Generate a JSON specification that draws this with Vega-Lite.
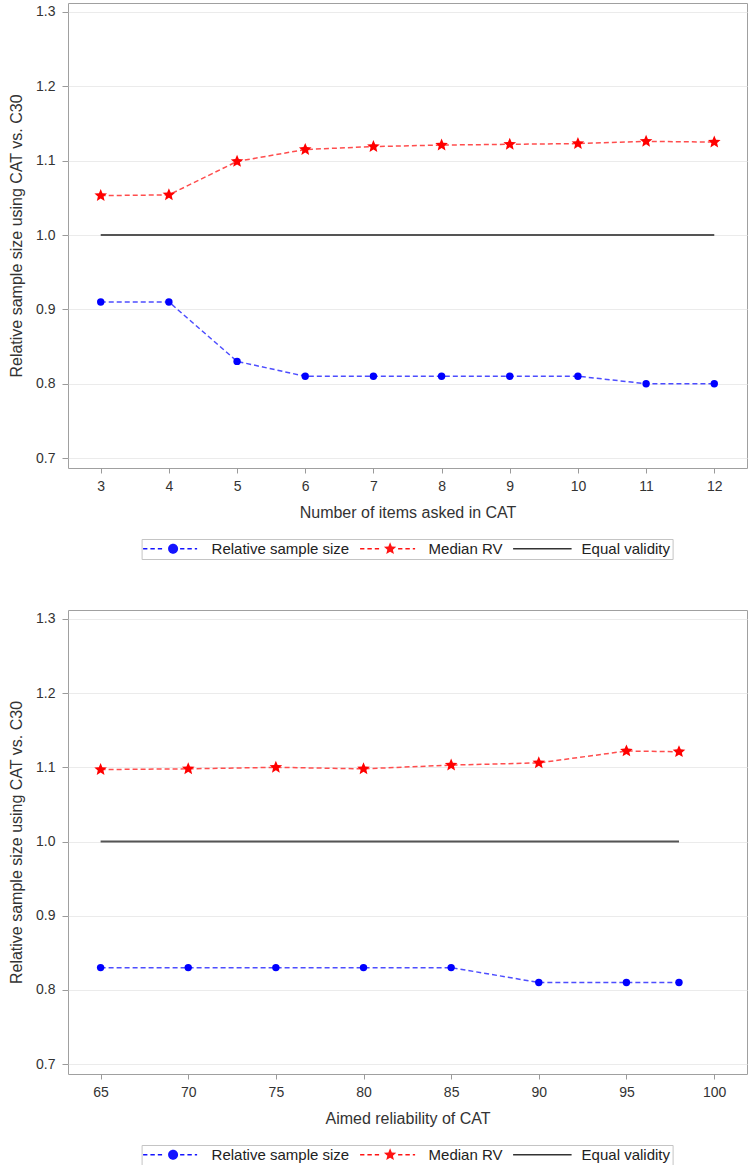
{
  "$schema": "https://vega.github.io/schema/vega-lite/v6.json",
  "background": "white",
  "padding": {"left": 8, "top": 2, "right": 2, "bottom": 0},
  "spacing": 49,
  "config": {
    "font": "Liberation Sans",
    "view": {"stroke": "#a0a0a0", "strokeWidth": 1},
    "axis": {
      "labelFont": "Liberation Sans",
      "titleFont": "Liberation Sans",
      "labelFontSize": 14,
      "titleFontSize": 16,
      "labelColor": "#333333",
      "titleColor": "#333333",
      "titleFontWeight": "normal",
      "domain": false,
      "tickColor": "#9a9a9a",
      "labelPadding": 6,
      "titlePadding": 11
    },
    "axisX": {"grid": false, "tickSize": 5},
    "axisY": {"grid": true, "gridColor": "#ebebeb", "gridWidth": 1, "tickSize": 6, "labelPadding": 7},
    "legend": {"labelFont": "Liberation Sans"}
  },
  "datasets": {
    "items": [
      {"x": 3, "y": 0.91, "series": "Relative sample size"},
      {"x": 4, "y": 0.91, "series": "Relative sample size"},
      {"x": 5, "y": 0.83, "series": "Relative sample size"},
      {"x": 6, "y": 0.81, "series": "Relative sample size"},
      {"x": 7, "y": 0.81, "series": "Relative sample size"},
      {"x": 8, "y": 0.81, "series": "Relative sample size"},
      {"x": 9, "y": 0.81, "series": "Relative sample size"},
      {"x": 10, "y": 0.81, "series": "Relative sample size"},
      {"x": 11, "y": 0.80, "series": "Relative sample size"},
      {"x": 12, "y": 0.80, "series": "Relative sample size"},
      {"x": 3, "y": 1.053, "series": "Median RV"},
      {"x": 4, "y": 1.054, "series": "Median RV"},
      {"x": 5, "y": 1.099, "series": "Median RV"},
      {"x": 6, "y": 1.115, "series": "Median RV"},
      {"x": 7, "y": 1.119, "series": "Median RV"},
      {"x": 8, "y": 1.121, "series": "Median RV"},
      {"x": 9, "y": 1.122, "series": "Median RV"},
      {"x": 10, "y": 1.123, "series": "Median RV"},
      {"x": 11, "y": 1.126, "series": "Median RV"},
      {"x": 12, "y": 1.125, "series": "Median RV"},
      {"x": 3, "y": 1.0, "series": "Equal validity"},
      {"x": 12, "y": 1.0, "series": "Equal validity"}
    ],
    "reliability": [
      {"x": 65, "y": 0.83, "series": "Relative sample size"},
      {"x": 70, "y": 0.83, "series": "Relative sample size"},
      {"x": 75, "y": 0.83, "series": "Relative sample size"},
      {"x": 80, "y": 0.83, "series": "Relative sample size"},
      {"x": 85, "y": 0.83, "series": "Relative sample size"},
      {"x": 90, "y": 0.81, "series": "Relative sample size"},
      {"x": 95, "y": 0.81, "series": "Relative sample size"},
      {"x": 98, "y": 0.81, "series": "Relative sample size"},
      {"x": 65, "y": 1.097, "series": "Median RV"},
      {"x": 70, "y": 1.098, "series": "Median RV"},
      {"x": 75, "y": 1.1, "series": "Median RV"},
      {"x": 80, "y": 1.098, "series": "Median RV"},
      {"x": 85, "y": 1.103, "series": "Median RV"},
      {"x": 90, "y": 1.106, "series": "Median RV"},
      {"x": 95, "y": 1.122, "series": "Median RV"},
      {"x": 98, "y": 1.121, "series": "Median RV"},
      {"x": 65, "y": 1.0, "series": "Equal validity"},
      {"x": 98, "y": 1.0, "series": "Equal validity"}
    ]
  },
  "vconcat": [
    {
      "width": 679,
      "height": 465,
      "data": {"name": "items"},
      "encoding": {
        "x": {"field": "x", "type": "quantitative", "title": "Number of items asked in CAT",
              "scale": {"domain": [2.52, 12.48], "nice": false, "zero": false},
              "axis": {"values": [3, 4, 5, 6, 7, 8, 9, 10, 11, 12]}},
        "y": {"field": "y", "type": "quantitative", "title": "Relative sample size using CAT vs. C30",
              "scale": {"domain": [0.6866, 1.3121], "nice": false, "zero": false},
              "axis": {"values": [0.7, 0.8, 0.9, 1.0, 1.1, 1.2, 1.3], "format": ".1f"}}
      },
      "layer": [
        {
          "transform": [{"filter": "datum.series !== 'Equal validity'"}],
          "mark": {"type": "line", "strokeDash": [5, 3], "strokeWidth": 1.5},
          "encoding": {
            "stroke": {"field": "series", "type": "nominal",
              "scale": {"domain": ["Relative sample size", "Median RV", "Equal validity"], "range": ["#4d4dff", "#ff4d4d", "#555555"]},
              "legend": {
                "orient": "none", "legendX": 73.6, "legendY": 536, "direction": "horizontal", "title": null,
                "symbolSize": 100, "labelFontSize": 15, "labelColor": "#222222", "labelOffset": 49,
                "columnPadding": 10, "padding": 2, "symbolOffset": 4, "strokeColor": "#c4c4c4",
                "encode": {"symbols": {"update": {
                  "shape": {"signal": "datum.value === 'Relative sample size' ? 'M-2.4,-0.13H-1.54V0.13H-2.4Z M-0.94,-0.13H-0.06V0.13H-0.94Z M0.54,-0.13H1.4V0.13H0.54Z M2.6,0A1,1 0 1,0 4.6,0A1,1 0 1,0 2.6,0Z M5,-0.13H5.86V0.13H5Z M6.46,-0.13H7.34V0.13H6.46Z M7.94,-0.13H8.4V0.13H7.94Z' : datum.value === 'Median RV' ? 'M-2.4,-0.13H-1.54V0.13H-2.4Z M-0.94,-0.13H-0.06V0.13H-0.94Z M0.54,-0.13H1.4V0.13H0.54Z M3.6,-1.3L3.944,-0.473L4.836,-0.402L4.156,0.181L4.364,1.052L3.6,0.585L2.836,1.052L3.044,0.181L2.364,-0.402L3.256,-0.473Z M5.2,-0.13H6.06V0.13H5.2Z M6.66,-0.13H7.54V0.13H6.66Z M8.14,-0.13H8.6V0.13H8.14Z' : 'M-2.4,-0.15H9.3V0.15H-2.4Z'"},
                  "fill": {"signal": "datum.value === 'Relative sample size' ? '#1414ff' : datum.value === 'Median RV' ? '#ff1414' : '#333333'"},
                  "stroke": {"value": "transparent"},
                  "strokeWidth": {"value": 0},
                  "opacity": {"value": 1}
                }}}
              }}
          }
        },
        {
          "transform": [{"filter": "datum.series === 'Equal validity'"}],
          "mark": {"type": "line", "strokeWidth": 2},
          "encoding": {"stroke": {"field": "series", "type": "nominal"}}
        },
        {
          "transform": [{"filter": "datum.series === 'Relative sample size'"}],
          "mark": {"type": "point", "shape": "circle", "filled": true, "color": "#0000ff", "size": 55, "opacity": 1},
          "encoding": {}
        },
        {
          "transform": [{"filter": "datum.series === 'Median RV'"}],
          "mark": {"type": "point", "shape": "M0,-1L0.265,-0.364L0.951,-0.309L0.428,0.139L0.588,0.809L0,0.45L-0.588,0.809L-0.428,0.139L-0.951,-0.309L-0.265,-0.364Z", "filled": true, "color": "#ff0000", "size": 175, "opacity": 1},
          "encoding": {}
        }
      ]
    },
    {
      "width": 679,
      "height": 464,
      "data": {"name": "reliability"},
      "encoding": {
        "x": {"field": "x", "type": "quantitative", "title": "Aimed reliability of CAT",
              "scale": {"domain": [63.14, 101.88], "nice": false, "zero": false},
              "axis": {"values": [65, 70, 75, 80, 85, 90, 95, 100]}},
        "y": {"field": "y", "type": "quantitative", "title": "Relative sample size using CAT vs. C30",
              "scale": {"domain": [0.6866, 1.3121], "nice": false, "zero": false},
              "axis": {"values": [0.7, 0.8, 0.9, 1.0, 1.1, 1.2, 1.3], "format": ".1f"}}
      },
      "layer": [
        {
          "transform": [{"filter": "datum.series !== 'Equal validity'"}],
          "mark": {"type": "line", "strokeDash": [5, 3], "strokeWidth": 1.5},
          "encoding": {
            "stroke": {"field": "series", "type": "nominal",
              "scale": {"domain": ["Relative sample size", "Median RV", "Equal validity"], "range": ["#4d4dff", "#ff4d4d", "#555555"]},
              "legend": {
                "orient": "none", "legendX": 73.6, "legendY": 535, "direction": "horizontal", "title": null,
                "symbolSize": 100, "labelFontSize": 15, "labelColor": "#222222", "labelOffset": 49,
                "columnPadding": 10, "padding": 2, "symbolOffset": 4, "strokeColor": "#c4c4c4",
                "encode": {"symbols": {"update": {
                  "shape": {"signal": "datum.value === 'Relative sample size' ? 'M-2.4,-0.13H-1.54V0.13H-2.4Z M-0.94,-0.13H-0.06V0.13H-0.94Z M0.54,-0.13H1.4V0.13H0.54Z M2.6,0A1,1 0 1,0 4.6,0A1,1 0 1,0 2.6,0Z M5,-0.13H5.86V0.13H5Z M6.46,-0.13H7.34V0.13H6.46Z M7.94,-0.13H8.4V0.13H7.94Z' : datum.value === 'Median RV' ? 'M-2.4,-0.13H-1.54V0.13H-2.4Z M-0.94,-0.13H-0.06V0.13H-0.94Z M0.54,-0.13H1.4V0.13H0.54Z M3.6,-1.3L3.944,-0.473L4.836,-0.402L4.156,0.181L4.364,1.052L3.6,0.585L2.836,1.052L3.044,0.181L2.364,-0.402L3.256,-0.473Z M5.2,-0.13H6.06V0.13H5.2Z M6.66,-0.13H7.54V0.13H6.66Z M8.14,-0.13H8.6V0.13H8.14Z' : 'M-2.4,-0.15H9.3V0.15H-2.4Z'"},
                  "fill": {"signal": "datum.value === 'Relative sample size' ? '#1414ff' : datum.value === 'Median RV' ? '#ff1414' : '#333333'"},
                  "stroke": {"value": "transparent"},
                  "strokeWidth": {"value": 0},
                  "opacity": {"value": 1}
                }}}
              }}
          }
        },
        {
          "transform": [{"filter": "datum.series === 'Equal validity'"}],
          "mark": {"type": "line", "strokeWidth": 2},
          "encoding": {"stroke": {"field": "series", "type": "nominal"}}
        },
        {
          "transform": [{"filter": "datum.series === 'Relative sample size'"}],
          "mark": {"type": "point", "shape": "circle", "filled": true, "color": "#0000ff", "size": 55, "opacity": 1},
          "encoding": {}
        },
        {
          "transform": [{"filter": "datum.series === 'Median RV'"}],
          "mark": {"type": "point", "shape": "M0,-1L0.265,-0.364L0.951,-0.309L0.428,0.139L0.588,0.809L0,0.45L-0.588,0.809L-0.428,0.139L-0.951,-0.309L-0.265,-0.364Z", "filled": true, "color": "#ff0000", "size": 175, "opacity": 1},
          "encoding": {}
        }
      ]
    }
  ],
  "resolve": {"scale": {"stroke": "independent"}, "legend": {"stroke": "independent"}}
}
